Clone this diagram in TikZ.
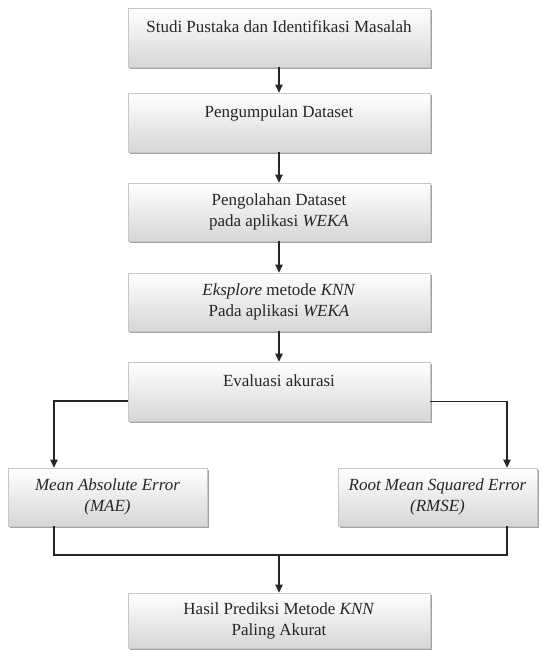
\documentclass[tikz,border=0pt]{standalone}
\usepackage{fontspec}
\setmainfont{Liberation Serif}
\usetikzlibrary{arrows.meta,shadows}
\begin{document}
\begin{tikzpicture}[x=1pt,y=-1pt,
  box/.style={rectangle, draw=black!22, line width=0.8pt, top color=white, bottom color=black!16,
    drop shadow={shadow xshift=2.2pt, shadow yshift=-2.2pt, fill=black!45, opacity=0.8},
    minimum width=302pt, minimum height=59pt, align=center, inner sep=2pt,
    font=\fontsize{17}{21}\selectfont, text=black!85},
  smallbox/.style={box, minimum width=199pt},
  conn/.style={draw=black!85, line width=1.1pt},
  arr/.style={conn, -{Triangle[width=7.5pt,length=8pt]}}]
\useasboundingbox (0,0) rectangle (543,651);
\node[box] (b1) at (279,37.5) {Studi Pustaka dan Identifikasi Masalah\\\mbox{}};
\node[box] (b2) at (279,122.5) {Pengumpulan Dataset\\\mbox{}};
\node[box, minimum height=58pt] (b3) at (279,212) {Pengolahan Dataset\\pada aplikasi \textit{WEKA}};
\node[box, minimum height=58pt] (b4) at (279,302) {\textit{Eksplore} metode \textit{KNN}\\Pada aplikasi \textit{WEKA}};
\node[box] (b5) at (279,391.5) {Evaluasi akurasi\\\mbox{}};
\node[smallbox, minimum height=58pt] (mae) at (107.5,497) {\textit{Mean Absolute Error}\\\textit{(MAE)}};
\node[smallbox, minimum height=58pt] (rmse) at (437.5,497) {\textit{Root Mean Squared Error}\\\textit{(RMSE)}};
\node[box, minimum height=55pt] (fin) at (279,620.5) {Hasil Prediksi Metode \textit{KNN}\\Paling Akurat};
\coordinate (j) at (279,555);
\draw[arr] (b1) -- (b2);
\draw[arr] (b2) -- (b3);
\draw[arr] (b3) -- (b4);
\draw[arr] (b4) -- (b5);
\draw[arr] ([yshift=-9.5pt]b5.west) -| ([xshift=-53.5pt]mae.north);
\draw[arr] ([yshift=-10pt]b5.east) -| ([xshift=69.5pt]rmse.north);
\draw[conn] ([xshift=-53.5pt]mae.south) |- (j) -| ([xshift=69.5pt]rmse.south);
\draw[arr] (j) -- (fin);
\end{tikzpicture}
\end{document}
